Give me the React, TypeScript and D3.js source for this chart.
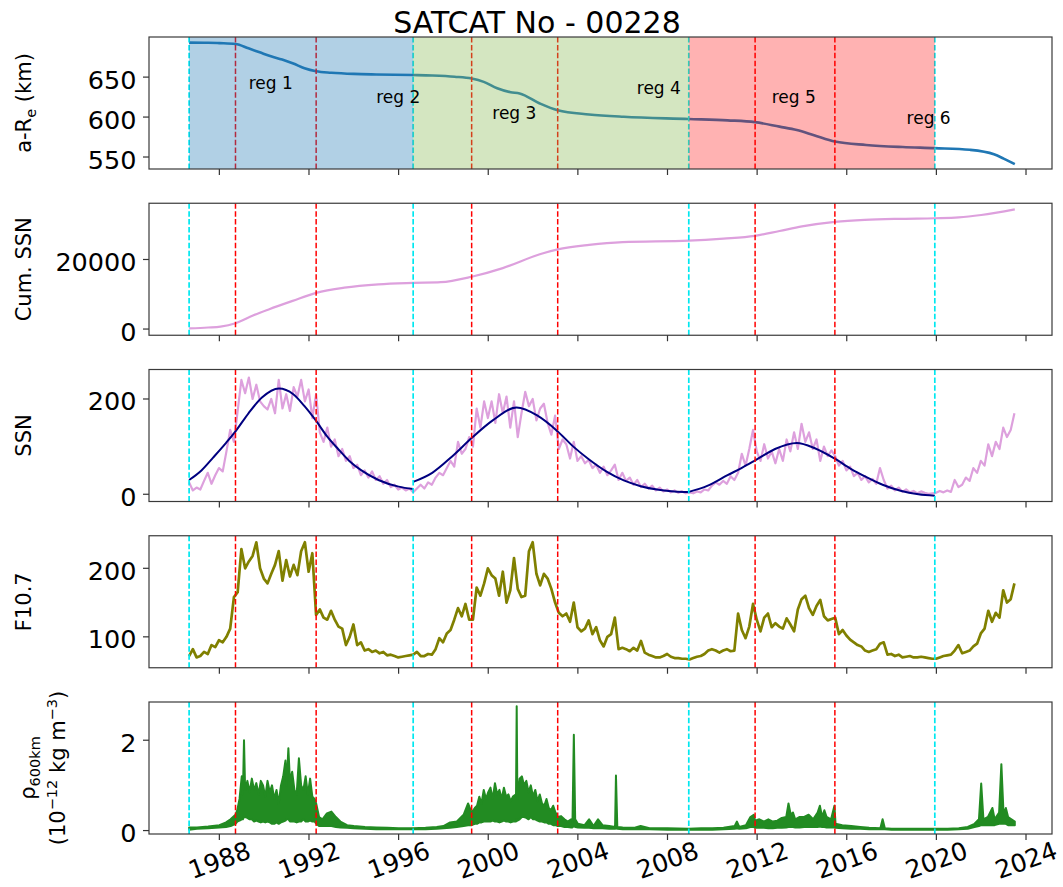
import React, { useRef, useEffect } from 'react';
import * as d3 from 'd3';

const chartTitle = 'SATCAT No - 00228';
const yearTicks = [1988, 1992, 1996, 2000, 2004, 2008, 2012, 2016, 2020, 2024];

// solar minima (cyan) and region boundaries (red)
const cycleMinima = [1986.65, 1996.65, 2008.95, 2019.93];
const regionBreaks = [1988.72, 1992.32, 1999.26, 2003.1, 2011.91, 2015.47];
const spanColors = ['#1f77b4', '#84b84e', '#ff0000'];
const spanOpacity = [0.35, 0.35, 0.3];

const regionNames = ['reg 1', 'reg 2', 'reg 3', 'reg 4', 'reg 5', 'reg 6'];
const regionLabelYears = [1989.31, 1995.0, 2000.18, 2006.63, 2012.65, 2018.67];
const regionLabelKm = [635.3, 618, 597.6, 628.5, 617.2, 591];

// semi-major axis minus earth radius
const altYears = [1986.65, 1987.5, 1988.0, 1988.72, 1989.3, 1989.8, 1990.3, 1990.8, 1991.3, 1991.8,
  1992.32, 1993.0, 1994.0, 1995.0, 1996.65, 1997.5, 1998.5, 1999.26, 1999.8, 2000.4,
  2001.0, 2001.4, 2002.3, 2003.1, 2004.5, 2006.05, 2008.95, 2010.68, 2011.9, 2013.0,
  2013.77, 2014.54, 2015.47, 2016.86, 2018.5, 2019.93, 2021.49, 2022.57, 2023.0, 2023.5];
const altKm = [693.2, 693, 692.5, 691.5, 686, 681, 676, 672, 667, 661,
  657.3, 655.5, 654, 653.3, 652.6, 652, 650.5, 648.2, 644, 636,
  631, 629.5, 617, 608.5, 603.3, 600.3, 597.6, 595.9, 593.7, 588,
  583.8, 577.3, 569.4, 565.1, 562.5, 561.1, 559, 553.4, 548, 541];

// cumulative sunspot number
const cumYears = [1986.65, 1987.5, 1988.05, 1988.72, 1989.5, 1990.2, 1991.27, 1992.32, 1993.58, 1995.1,
  1996.65, 1997.88, 1999.26, 2000.65, 2002.3, 2003.1, 2004.5, 2006.0, 2008.95, 2010.5,
  2011.9, 2013.0, 2014.0, 2015.47, 2016.8, 2018.5, 2019.93, 2021.0, 2022.0, 2023.5];
const cumSSN = [200, 450, 700, 1670, 3900, 5640, 8100, 10390, 11890, 12860,
  13270, 13470, 15050, 17530, 21500, 22900, 24200, 25000, 25400, 26000,
  26800, 28200, 29500, 30800, 31400, 31700, 31850, 32100, 32800, 34400];

// sampled every two months from Sep 1986
const sampleStart = 1986.65;
const samplesPerYear = 6;
const ssnValues = [
  25, 8, 14, 10, 28, 45,
  22, 40, 55, 48, 90, 135,
  110, 175, 240, 212, 245, 200,
  230, 195, 185, 178, 200, 170,
  240, 180, 210, 175, 225, 205,
  240, 195, 220, 160, 210, 130,
  110, 140, 100, 115, 80, 95,
  70, 80, 55, 62, 40, 50,
  35, 48, 30, 38, 22, 30,
  15, 20, 10, 14, 8, 12,
  4, 12, 20, 12, 25, 20,
  35, 45, 40, 55, 70, 58,
  110, 85, 95, 120, 100, 180,
  140, 195, 160, 195, 150, 210,
  170, 205, 140, 195, 120, 170,
  215, 185, 200, 155, 180, 190,
  150, 125, 165, 95, 115, 105,
  75, 110, 70, 80, 65, 72,
  55, 62, 45, 58, 40, 50,
  62, 30, 45, 28, 35, 20,
  30, 15, 22, 12, 18, 8,
  14, 6, 10, 4, 8, 3,
  6, 2, 4, 2, 6, 4,
  10, 8, 18, 25, 20, 28,
  22, 38, 30, 45, 85, 60,
  95, 135, 90, 70, 105, 75,
  90, 65, 95, 70, 115, 90,
  130, 95, 148, 110, 130, 95,
  115, 70, 100, 80, 92, 80,
  60, 70, 50, 58, 38, 45,
  30, 38, 25, 32, 22, 55,
  30, 12, 18, 8, 14, 5,
  10, 4, 7, 2, 6, 3,
  1, 2, 3, 7, 4, 8,
  5, 30, 15, 20, 35, 28,
  55, 45, 70, 60, 105, 80,
  110, 95, 140, 120, 135, 170,
];
const f107Values = [
  72, 82, 70, 72, 78, 75,
  88, 85, 95, 92, 100, 112,
  158, 165, 228, 200, 210, 218,
  238, 200, 185, 178, 192, 205,
  225, 182, 212, 188, 205, 190,
  225, 238, 195, 222, 132, 140,
  128, 125, 138, 125, 115, 112,
  88, 100, 118, 88, 92, 80,
  82, 78, 80, 76, 78, 73,
  74, 72, 70, 71, 72, 73,
  74, 78, 72, 72, 75, 74,
  82, 98, 92, 105, 110, 125,
  142, 130, 148, 125, 125, 172,
  160, 178, 200, 190, 185, 160,
  195, 150, 168, 215, 170, 158,
  160, 225, 238, 192, 175, 192,
  185, 170, 150, 135, 130, 134,
  122, 150, 114, 108, 112, 124,
  104, 114, 95, 86, 100, 104,
  128, 82, 84, 82, 79, 84,
  80, 94, 77, 74, 72, 70,
  70, 72, 75, 71, 69, 69,
  68, 68, 67, 69, 71, 72,
  75, 80, 82, 80, 77, 80,
  82, 79, 80, 134, 110, 98,
  115, 148, 125, 108, 128, 134,
  114, 120, 115, 112, 127, 118,
  108, 140, 155, 160, 142, 132,
  145, 154, 130, 124, 126, 128,
  104, 110, 102, 96, 92, 88,
  86, 80, 78, 80, 82, 90,
  92, 74, 75, 72, 74, 70,
  71, 72, 70, 70, 71, 70,
  69, 68, 68, 70, 72, 73,
  74, 80, 88, 76, 78, 80,
  86, 90, 105, 112, 138, 122,
  135, 128, 168, 150, 155, 178,
];

// fitted cycle profiles
const fitYears = [
  [1986.65, 1987.2, 1987.74, 1988.3, 1988.72, 1989.3, 1989.9, 1990.66, 1991.3, 1991.8, 1992.32, 1992.8, 1993.3, 1993.8, 1994.34, 1995.1, 1996.0, 1996.65],
  [1996.65, 1997.5, 1998.4, 1999.26, 2000.2, 2001.26, 2002.2, 2003.1, 2003.8, 2004.5, 2005.3, 2006.05, 2006.8, 2007.6, 2008.3, 2008.95],
  [2008.95, 2009.8, 2010.68, 2011.3, 2011.91, 2012.8, 2013.77, 2014.6, 2015.47, 2016.2, 2016.86, 2017.6, 2018.4, 2019.2, 2019.93],
];
const fitSSN = [
  [30, 50, 78, 108, 132, 170, 203, 222, 210, 185, 154, 122, 95, 70, 50, 30, 16, 11],
  [26, 45, 80, 118, 155, 182, 165, 132, 100, 73, 47, 29, 17, 9.5, 6, 5],
  [5, 18, 40, 55, 71, 95, 107.5, 96, 74.6, 53, 36.5, 20, 7.4, 0, -3],
];

// density at 600 km, lower / upper envelope of the daily values
const rhoYears = [1986.65, 1987.0, 1987.5, 1988.0, 1988.3, 1988.5, 1988.72, 1988.8, 1988.9, 1989.0,
  1989.05, 1989.1, 1989.15, 1989.25, 1989.35, 1989.45, 1989.55, 1989.65, 1989.75, 1989.85,
  1989.95, 1990.05, 1990.15, 1990.25, 1990.35, 1990.45, 1990.55, 1990.65, 1990.75, 1990.85,
  1990.95, 1991.0, 1991.08, 1991.15, 1991.25, 1991.35, 1991.45, 1991.55, 1991.65, 1991.75,
  1991.85, 1991.95, 1992.05, 1992.15, 1992.25, 1992.32, 1992.45, 1992.6, 1992.8, 1993.0,
  1993.2, 1993.4, 1993.7, 1994.0, 1994.5, 1995.0, 1995.5, 1996.0, 1996.65, 1997.2,
  1997.7, 1998.0, 1998.3, 1998.6, 1998.9, 1999.1, 1999.26, 1999.4, 1999.5, 1999.6,
  1999.7, 1999.8, 1999.9, 2000.0, 2000.1, 2000.2, 2000.3, 2000.4, 2000.5, 2000.6,
  2000.7, 2000.8, 2000.9, 2001.0, 2001.1, 2001.24, 2001.27, 2001.3, 2001.4, 2001.5,
  2001.6, 2001.7, 2001.8, 2001.9, 2002.0, 2002.1, 2002.2, 2002.3, 2002.4, 2002.5,
  2002.6, 2002.7, 2002.8, 2002.9, 2003.0, 2003.1, 2003.25, 2003.4, 2003.55, 2003.7,
  2003.76, 2003.82, 2003.88, 2004.0, 2004.3, 2004.5, 2004.7, 2004.9, 2005.1, 2005.4,
  2005.66, 2005.7, 2005.76, 2006.0, 2006.5, 2006.8, 2007.2, 2008.0, 2008.95, 2009.5,
  2010.0, 2010.5, 2011.0, 2011.1, 2011.2, 2011.5, 2011.7, 2011.85, 2011.91, 2012.1,
  2012.3, 2012.5, 2012.7, 2012.9, 2013.1, 2013.3, 2013.4, 2013.5, 2013.6, 2013.7,
  2013.9, 2014.1, 2014.3, 2014.5, 2014.7, 2014.8, 2014.9, 2015.0, 2015.1, 2015.3,
  2015.45, 2015.5, 2015.8, 2016.2, 2016.6, 2017.0, 2017.5, 2017.6, 2017.7, 2018.0,
  2019.0, 2019.93, 2020.5, 2021.0, 2021.4, 2021.7, 2021.9, 2022.0, 2022.1, 2022.3,
  2022.5, 2022.6, 2022.8, 2022.9, 2023.0, 2023.1, 2023.2, 2023.35, 2023.5];
const rhoLow = [0.02, 0.04, 0.05, 0.07, 0.08, 0.1, 0.15, 0.2, 0.22, 0.25,
  0.25, 0.3, 0.3, 0.28, 0.25, 0.25, 0.2, 0.22, 0.2, 0.18,
  0.2, 0.18, 0.2, 0.18, 0.15, 0.15, 0.18, 0.15, 0.18, 0.2,
  0.22, 0.25, 0.25, 0.2, 0.2, 0.2, 0.18, 0.2, 0.2, 0.25,
  0.2, 0.2, 0.22, 0.2, 0.2, 0.15, 0.1, 0.1, 0.1, 0.1,
  0.08, 0.07, 0.06, 0.05, 0.04, 0.03, 0.03, 0.03, 0.03, 0.03,
  0.04, 0.05, 0.06, 0.08, 0.1, 0.12, 0.12, 0.15, 0.15, 0.18,
  0.18, 0.2, 0.2, 0.2, 0.2, 0.22, 0.2, 0.2, 0.18, 0.2,
  0.22, 0.2, 0.2, 0.18, 0.2, 0.2, 0.25, 0.22, 0.25, 0.3,
  0.3, 0.28, 0.25, 0.3, 0.25, 0.25, 0.22, 0.2, 0.2, 0.18,
  0.18, 0.15, 0.15, 0.12, 0.12, 0.1, 0.1, 0.08, 0.08, 0.07,
  0.07, 0.1, 0.08, 0.07, 0.06, 0.06, 0.05, 0.05, 0.05, 0.04,
  0.04, 0.05, 0.04, 0.03, 0.03, 0.03, 0.03, 0.02, 0.02, 0.02,
  0.02, 0.03, 0.04, 0.05, 0.04, 0.05, 0.08, 0.08, 0.06, 0.06,
  0.06, 0.05, 0.05, 0.06, 0.06, 0.07, 0.08, 0.08, 0.08, 0.07,
  0.07, 0.08, 0.08, 0.08, 0.08, 0.09, 0.08, 0.08, 0.07, 0.07,
  0.07, 0.06, 0.05, 0.04, 0.04, 0.03, 0.03, 0.03, 0.03, 0.02,
  0.02, 0.02, 0.02, 0.03, 0.04, 0.08, 0.1, 0.12, 0.12, 0.12,
  0.12, 0.12, 0.15, 0.15, 0.15, 0.15, 0.12, 0.12, 0.12];
const rhoHigh = [0.07, 0.07, 0.09, 0.12, 0.18, 0.25, 0.35, 0.45, 0.7, 1.2,
  0.8, 2.0, 0.9, 1.1, 0.85, 1.15, 0.9, 1.05, 0.8, 1.1,
  1.0, 0.75, 1.1, 0.85, 1.0, 0.7, 0.9, 0.6, 1.0, 1.2,
  1.55, 1.0, 1.82, 1.1, 1.3, 0.9, 0.8, 1.6, 1.0, 0.9,
  1.2, 0.8, 1.15, 0.75, 0.7, 0.6, 0.3, 0.25, 0.38, 0.42,
  0.3, 0.2, 0.12, 0.1, 0.08, 0.07, 0.06, 0.05, 0.05, 0.06,
  0.08, 0.1, 0.18, 0.2, 0.35, 0.6, 0.4, 0.5, 0.55, 0.75,
  0.6, 0.9, 0.7, 0.85, 0.95, 0.7, 1.05, 0.8, 0.9, 0.7,
  0.95, 0.75, 0.8, 0.65, 0.75, 0.8, 2.75, 0.7, 1.15, 1.2,
  1.0, 1.1, 0.85, 1.0, 0.75, 0.9, 0.65, 0.8, 0.6, 0.55,
  0.7, 0.5, 0.45, 0.55, 0.4, 0.3, 0.32, 0.25, 0.2, 0.25,
  0.2, 2.12, 0.25, 0.15, 0.12, 0.25, 0.1, 0.25, 0.12, 0.1,
  0.08, 1.22, 0.08, 0.07, 0.06, 0.1, 0.05, 0.05, 0.04, 0.05,
  0.05, 0.06, 0.1, 0.2, 0.08, 0.12, 0.3, 0.35, 0.22, 0.25,
  0.2, 0.25, 0.2, 0.22, 0.28, 0.3, 0.6, 0.35, 0.4, 0.25,
  0.3, 0.3, 0.35, 0.25, 0.4, 0.55, 0.3, 0.45, 0.3, 0.25,
  0.55, 0.15, 0.12, 0.1, 0.08, 0.06, 0.05, 0.25, 0.05, 0.04,
  0.04, 0.04, 0.04, 0.05, 0.08, 0.15, 0.25, 1.04, 0.25, 0.3,
  0.5, 0.25, 0.4, 1.47, 0.35, 0.5, 0.3, 0.25, 0.2];

const panelDomains = [[535, 700.2], [-1784, 36170], [-15.2, 261.9], [54.9, 247.5], [-0.076, 2.846]];
const panelTicks = [[550, 600, 650], [0, 20000], [0, 200], [100, 200], [0, 2]];

function App() {
  const chartRef = useRef(null);

  useEffect(() => {
    drawChart();
  }, []);

  const drawChart = () => {
    const svg = d3.select(chartRef.current);
    svg.selectAll('*').remove();

    const font = 'DejaVu Sans, Verdana, sans-serif';
    const left = 149;
    const right = 1052;
    const panelH = 132;
    const tops = [37, 203.25, 369.5, 535.75, 702];

    const x = d3.scaleLinear().domain([1984.86, 2025.16]).range([left, right]);
    const sampleYear = (i) => sampleStart + i / samplesPerYear;

    svg.append('rect').attr('width', 1063).attr('height', 887).attr('fill', 'white');

    tops.forEach((top, k) => {
      const bottom = top + panelH;
      const y = d3.scaleLinear().domain(panelDomains[k]).range([bottom, top]);

      svg.append('clipPath').attr('id', `clip${k}`)
        .append('rect')
        .attr('x', left).attr('y', top)
        .attr('width', right - left).attr('height', panelH);

      const plot = svg.append('g').attr('clip-path', `url(#clip${k})`);

      if (k === 0) {
        const line = d3.line().x((d, i) => x(altYears[i])).y(d => y(d)).curve(d3.curveMonotoneX);
        plot.append('path').datum(altKm)
          .attr('fill', 'none').attr('stroke', '#1f77b4').attr('stroke-width', 2.6)
          .attr('d', line);
      }
      if (k === 1) {
        const line = d3.line().x((d, i) => x(cumYears[i])).y(d => y(d)).curve(d3.curveMonotoneX);
        plot.append('path').datum(cumSSN)
          .attr('fill', 'none').attr('stroke', '#dda0dd').attr('stroke-width', 2.2)
          .attr('d', line);
      }
      if (k === 2) {
        const line = d3.line().x((d, i) => x(sampleYear(i))).y(d => y(d));
        plot.append('path').datum(ssnValues)
          .attr('fill', 'none').attr('stroke', '#dda0dd').attr('stroke-width', 2.2)
          .attr('stroke-linejoin', 'round')
          .attr('d', line);
        fitSSN.forEach((vals, c) => {
          const fit = d3.line().x((d, i) => x(fitYears[c][i])).y(d => y(d)).curve(d3.curveMonotoneX);
          plot.append('path').datum(vals)
            .attr('fill', 'none').attr('stroke', '#000080').attr('stroke-width', 2)
            .attr('d', fit);
        });
      }
      if (k === 3) {
        const line = d3.line().x((d, i) => x(sampleYear(i))).y(d => y(d));
        plot.append('path').datum(f107Values)
          .attr('fill', 'none').attr('stroke', '#808000').attr('stroke-width', 2.7)
          .attr('stroke-linejoin', 'round')
          .attr('d', line);
      }
      if (k === 4) {
        const area = d3.area()
          .x((d, i) => x(rhoYears[i]))
          .y0((d, i) => y(rhoLow[i]))
          .y1(d => y(d));
        plot.append('path').datum(rhoHigh)
          .attr('fill', '#228b22').attr('stroke', '#228b22').attr('stroke-width', 2)
          .attr('stroke-linejoin', 'round')
          .attr('d', area);
      }

      // vertical markers
      cycleMinima.forEach(yr => {
        plot.append('line')
          .attr('x1', x(yr)).attr('x2', x(yr)).attr('y1', top).attr('y2', bottom)
          .attr('stroke', '#00e8f0').attr('stroke-width', 1.7).attr('stroke-dasharray', '5.5,2.4');
      });
      regionBreaks.forEach(yr => {
        plot.append('line')
          .attr('x1', x(yr)).attr('x2', x(yr)).attr('y1', top).attr('y2', bottom)
          .attr('stroke', '#ff0000').attr('stroke-width', 1.5).attr('stroke-dasharray', '5.5,2.4');
      });

      if (k === 0) {
        for (let s = 0; s < 3; s++) {
          plot.append('rect')
            .attr('x', x(cycleMinima[s])).attr('y', top)
            .attr('width', x(cycleMinima[s + 1]) - x(cycleMinima[s])).attr('height', panelH)
            .attr('fill', spanColors[s]).attr('fill-opacity', spanOpacity[s]);
        }
        regionNames.forEach((name, r) => {
          svg.append('text')
            .attr('x', x(regionLabelYears[r])).attr('y', y(regionLabelKm[r]))
            .attr('font-family', font).attr('font-size', 17).attr('fill', 'black')
            .text(name);
        });
      }

      // frame
      svg.append('rect')
        .attr('x', left).attr('y', top).attr('width', right - left).attr('height', panelH)
        .attr('fill', 'none').attr('stroke', '#3a3a3a').attr('stroke-width', 1.2);

      // x ticks
      yearTicks.forEach(yr => {
        svg.append('line')
          .attr('x1', x(yr)).attr('x2', x(yr)).attr('y1', bottom).attr('y2', bottom + 6)
          .attr('stroke', '#333').attr('stroke-width', 1.2);
        if (k === 4) {
          svg.append('text')
            .attr('transform', `translate(${x(yr)},860) rotate(-20)`)
            .attr('text-anchor', 'middle').attr('dy', 9)
            .attr('font-family', font).attr('font-size', 25).attr('fill', 'black')
            .text(String(yr));
        }
      });

      // y ticks
      panelTicks[k].forEach(v => {
        svg.append('line')
          .attr('x1', left - 6).attr('x2', left).attr('y1', y(v)).attr('y2', y(v))
          .attr('stroke', '#333').attr('stroke-width', 1.2);
        svg.append('text')
          .attr('x', left - 12.5).attr('y', y(v) + 11.5)
          .attr('text-anchor', 'end')
          .attr('font-family', font).attr('font-size', 25.5).attr('fill', 'black')
          .text(String(v));
      });

      // y labels
      const cy = top + panelH / 2;
      const label = svg.append('text')
        .attr('transform', `translate(${k === 4 ? 35 : 31},${cy}) rotate(-90)`)
        .attr('text-anchor', 'middle')
        .attr('font-family', font).attr('font-size', 21).attr('fill', 'black');
      if (k === 0) {
        label.append('tspan').text('a-R');
        label.append('tspan').attr('font-size', 14.5).attr('dy', 4.5).text('e');
        label.append('tspan').attr('dy', -4.5).text(' (km)');
      } else if (k === 1) {
        label.text('Cum. SSN');
      } else if (k === 2) {
        label.text('SSN');
      } else if (k === 3) {
        label.text('F10.7');
      } else {
        label.append('tspan').text('ρ');
        label.append('tspan').attr('font-size', 14.5).attr('dy', 4.5).text('600km');
        const second = svg.append('text')
          .attr('transform', `translate(65,${cy}) rotate(-90)`)
          .attr('text-anchor', 'middle')
          .attr('font-family', font).attr('font-size', 21).attr('fill', 'black');
        second.append('tspan').text('(10');
        second.append('tspan').attr('font-size', 14.5).attr('dy', -8).text('−12');
        second.append('tspan').attr('dy', 8).text(' kg m');
        second.append('tspan').attr('font-size', 14.5).attr('dy', -8).text('−3');
        second.append('tspan').attr('dy', 8).text(')');
      }
    });

    svg.append('text')
      .attr('x', 537).attr('y', 33)
      .attr('text-anchor', 'middle')
      .attr('font-family', font).attr('font-size', 30).attr('fill', 'black')
      .text(chartTitle);
  };

  return (
    <svg ref={chartRef} width={1063} height={887}
      style={{ position: 'absolute', left: 0, top: 0, display: 'block' }}></svg>
  );
}

export default App;
